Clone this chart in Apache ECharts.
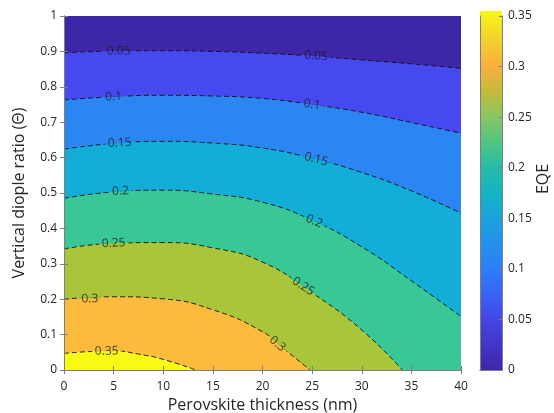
<!DOCTYPE html>
<html>
<head>
<meta charset="utf-8">
<script src="https://cdn.jsdelivr.net/npm/echarts@6/dist/echarts.min.js"></script>
<style>
  html, body { margin: 0; padding: 0; background: #fff; }
  #chart { width: 554px; height: 413px; }
</style>
</head>
<body>
<div id="chart"></div>
<script>
// contour levels of EQE, and the points of each dashed contour [thickness, ratio]
const levels = ["0.05", "0.1", "0.15", "0.2", "0.25", "0.3", "0.35"];
const c05 = [[0, 0.896], [5, 0.901], [10, 0.902], [15, 0.9], [20, 0.895], [25, 0.887], [30, 0.876], [35, 0.865], [40, 0.852]];
const c10 = [[0, 0.763], [5, 0.772], [10, 0.776], [15, 0.774], [20, 0.767], [25, 0.75], [30, 0.728], [35, 0.699], [40, 0.669]];
const c15 = [[0, 0.624], [5, 0.64], [10, 0.646], [15, 0.641], [20, 0.627], [25, 0.598], [30, 0.558], [35, 0.506], [40, 0.443]];
const c20 = [[0, 0.485], [5, 0.503], [10, 0.508], [15, 0.497], [20, 0.474], [25, 0.423], [30, 0.348], [35, 0.252], [40, 0.151]];
const c25 = [[0, 0.342], [5, 0.358], [10, 0.36], [15, 0.345], [20, 0.305], [25, 0.218], [30, 0.113], [34.1, 0]];
const c30 = [[0, 0.2], [5, 0.207], [10, 0.201], [15, 0.17], [20, 0.108], [22.5, 0.052], [24.8, 0]];
const c35 = [[0, 0.047], [2.5, 0.052], [5, 0.054], [7.5, 0.045], [10, 0.03], [13.3, 0]];
const contours = [c05, c10, c15, c20, c25, c30, c35];

// contour labels [x, y, text]
const contourLabels = [
  [5.5, 0.901, "0.05"], [25.4, 0.887, "0.05"],
  [5.0, 0.772, "0.1"], [25.0, 0.75, "0.1"],
  [5.6, 0.641, "0.15"], [25.4, 0.595, "0.15"],
  [5.7, 0.505, "0.2"], [25.2, 0.42, "0.2"],
  [5.0, 0.358, "0.25"], [24.1, 0.236, "0.25"],
  [2.6, 0.201, "0.3"], [21.5, 0.074, "0.3"],
  [4.3, 0.053, "0.35"]
];
const labelRotate = [1, -4, 2, -8, 3, -14, 3, -24, 3, -33, 1, -40, 1];

// colorbar: 0 .. 0.355 (top cap a bit past 0.35)
const cbMax = 0.355;

// parula-like colours
const bandColors = ["#3e26a8", "#4649ef", "#2b86f2", "#12aed8", "#39c795", "#a9c63a", "#fcbb3d", "#f9fa14"];
const cbStops = [
  [0, "#3e26a8"], [0.025, "#4235c6"], [0.05, "#4446e6"], [0.075, "#3864f6"], [0.1, "#2d7ef6"],
  [0.125, "#2490ec"], [0.15, "#1aa3dc"], [0.175, "#14b4c4"], [0.2, "#26bba8"], [0.225, "#4fc683"],
  [0.25, "#88c663"], [0.275, "#c4bb3a"], [0.3, "#f9ae3e"], [0.325, "#f3cf2e"], [0.35, "#f5f01c"], [0.355, "#f9fb0e"]
];

const FONT = "Open Sans";
const AX = "#7f7f7f";
const TXT = "#262626";

const myChart = echarts.init(document.getElementById("chart"), null, { renderer: "canvas" });

const series = [];
contours.forEach((c, i) => {
  series.push({
    type: "line", xAxisIndex: 0, yAxisIndex: 0, data: c, smooth: 0.5,
    symbol: "none", silent: true, lineStyle: { width: 0 },
    areaStyle: { color: bandColors[i + 1], opacity: 1 }, z: 2
  });
});
contours.forEach((c) => {
  series.push({
    type: "line", xAxisIndex: 0, yAxisIndex: 0, data: c, smooth: 0.5,
    symbol: "none", silent: true,
    lineStyle: { width: 0.9, color: "#111", type: [5, 3] }, z: 3
  });
});

// label background split in two so the dashed line is broken under the text
function splitBg(txt) {
  const i = levels.indexOf(txt);
  const up = bandColors[i], lo = bandColors[i + 1];
  return {
    type: "linear", x: 0, y: 0, x2: 0, y2: 1,
    colorStops: [
      { offset: 0, color: up }, { offset: 0.5, color: up },
      { offset: 0.5, color: lo }, { offset: 1, color: lo }
    ]
  };
}

series.push({
  type: "scatter", xAxisIndex: 0, yAxisIndex: 0, symbolSize: 0, silent: true, z: 5,
  data: contourLabels.map((d, k) => ({
    value: d,
    label: { rotate: labelRotate[k], backgroundColor: splitBg(d[2]) }
  })),
  label: {
    show: true, position: "inside", formatter: (p) => p.value[2],
    fontFamily: FONT, fontSize: 12, color: "#1a1a1a", padding: [0, 3]
  }
});

// colorbar
series.push({
  type: "bar", xAxisIndex: 2, yAxisIndex: 2, barWidth: "100%", silent: true, clip: false,
  data: [cbMax],
  itemStyle: {
    color: {
      type: "linear", x: 0, y: 0, x2: 0, y2: 1,
      colorStops: cbStops.map((s) => ({ offset: (cbMax - s[0]) / cbMax, color: s[1] }))
    }
  }
});

const tickStyle = { show: true, inside: true, length: 4, lineStyle: { color: AX } };
const lineStyle = { show: true, lineStyle: { color: AX, width: 1 } };

myChart.setOption({
  animation: false,
  grid: [
    { left: 64, right: 93, top: 16, bottom: 43, show: true, backgroundColor: bandColors[0], borderWidth: 0, outerBoundsMode: "none", containLabel: false },
    { left: 480, width: 22, top: 16, bottom: 43, outerBoundsMode: "none", containLabel: false }
  ],
  graphic: [{
    type: "text", x: 543, y: 179, rotation: Math.PI / 2, silent: true,
    style: { text: "EQE", fontFamily: FONT, fontSize: 16, fill: TXT, align: "center", verticalAlign: "middle" }
  }],
  xAxis: [
    {
      type: "value", gridIndex: 0, min: 0, max: 40, interval: 5, z: 10,
      axisLine: lineStyle, axisTick: tickStyle, splitLine: { show: false },
      axisLabel: { fontFamily: FONT, fontSize: 12, color: TXT, margin: 11 },
      name: "Perovskite thickness (nm)", nameLocation: "middle", nameGap: 23,
      nameTextStyle: { fontFamily: FONT, fontSize: 16, color: TXT }
    },
    {
      type: "value", gridIndex: 0, position: "top", min: 0, max: 40, interval: 5, z: 10,
      axisLine: lineStyle, axisTick: tickStyle, axisLabel: { show: false }, splitLine: { show: false }
    },
    {
      type: "category", gridIndex: 1, data: [""], z: 10,
      axisLine: lineStyle, axisTick: { show: false }, axisLabel: { show: false }
    },
    {
      type: "category", gridIndex: 1, position: "top", data: [""], z: 10,
      axisLine: lineStyle, axisTick: { show: false }, axisLabel: { show: false }
    }
  ],
  yAxis: [
    {
      type: "value", gridIndex: 0, min: 0, max: 1, interval: 0.1, z: 10,
      axisLine: lineStyle, axisTick: tickStyle, splitLine: { show: false },
      axisLabel: { fontFamily: FONT, fontSize: 12, color: TXT, margin: 7 },
      name: "Vertical diople ratio (Θ)", nameLocation: "middle", nameGap: 37,
      nameTextStyle: { fontFamily: FONT, fontSize: 16, color: TXT }
    },
    {
      type: "value", gridIndex: 0, position: "right", min: 0, max: 1, interval: 0.1, z: 10,
      axisLine: lineStyle, axisTick: tickStyle, axisLabel: { show: false }, splitLine: { show: false }
    },
    {
      type: "value", gridIndex: 1, position: "right", min: 0, max: 0.35, interval: 0.05, z: 10,
      axisLine: lineStyle, splitLine: { show: false },
      axisTick: { show: true, inside: true, length: 3, lineStyle: { color: AX } },
      axisLabel: { fontFamily: FONT, fontSize: 12, color: TXT, margin: 6 }
    },
    {
      type: "value", gridIndex: 1, position: "left", min: 0, max: 0.35, interval: 0.05, z: 10,
      axisLine: lineStyle, axisTick: { show: false }, axisLabel: { show: false }, splitLine: { show: false }
    }
  ],
  series: series
});
</script>
</body>
</html>
